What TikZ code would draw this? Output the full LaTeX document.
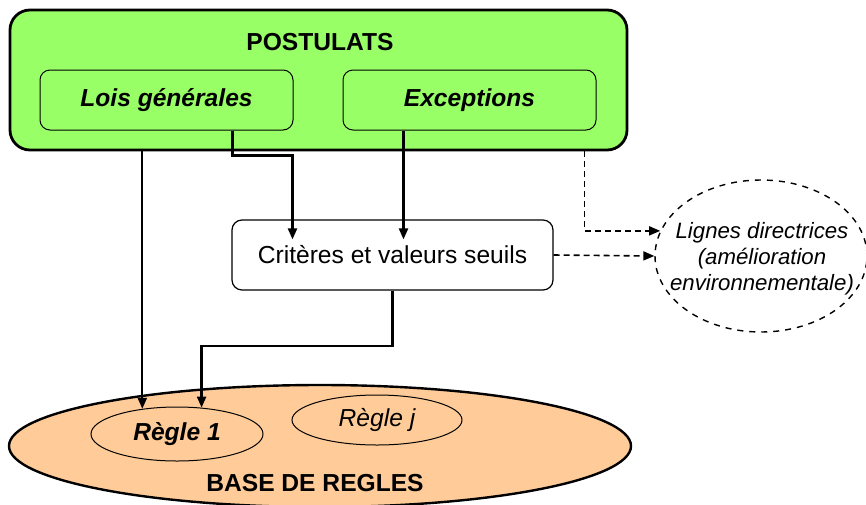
\documentclass[tikz,border=0pt]{standalone}
\usepackage{fontspec}
\setmainfont{Liberation Sans}
\usetikzlibrary{positioning, arrows.meta, calc, shapes.geometric}
\definecolor{vert}{HTML}{99FF66}
\definecolor{saumon}{HTML}{FFCC99}
\newcommand{\taille}{\fontsize{12.3}{14}\selectfont}

\begin{document}
\begin{tikzpicture}[x=0.5pt, y=-0.5pt,
  groupe/.style={draw, line width=1.4pt, rounded corners=10pt, fill=vert,
    minimum width=308.5pt, minimum height=70pt},
  boite/.style={draw, line width=0.5pt, rounded corners=5pt, fill=vert,
    minimum width=126.5pt, minimum height=30pt, font=\taille\bfseries\itshape},
  critere/.style={draw, line width=0.6pt, rounded corners=5pt, fill=white,
    minimum width=160.5pt, minimum height=35pt, font=\taille},
  titre/.style={font=\taille\bfseries},
  base/.style={draw, ellipse, line width=1.2pt, fill=saumon, inner sep=0pt,
    minimum width=311pt, minimum height=61pt},
  regle/.style={draw, ellipse, line width=0.5pt, inner sep=0pt,
    minimum width=86pt, minimum height=27pt, font=\taille\itshape},
  guide/.style={draw, ellipse, dashed, line width=0.7pt, fill=white, inner sep=0pt,
    minimum width=106pt, minimum height=76pt},
  guidetexte/.style={align=center, inner sep=0pt,
    font=\fontsize{11.1}{13}\selectfont\itshape},
  fleche/.style={-{Triangle[length=5.5pt, width=4.5pt]}, line width=1.1pt},
  tirets/.style={-{Triangle[length=5.5pt, width=4.5pt]}, line width=0.8pt,
    dash pattern=on 3pt off 2pt}
]
\useasboundingbox (0,0) rectangle (866,504);

% postulats
\node[groupe] (postulats) at (318.5,80) {};
\node[titre] (titre) at (320,42) {POSTULATS};
\node[boite] (lois) at (166.5,100) {Lois générales};
\node[boite] (exceptions) at (469.5,100) {Exceptions};

% base de regles
\node[base] (base) at (320,446) {};
\node[titre] (nombase) at (315,483) {BASE DE REGLES};
\node[regle] (regle1) at (177,434) {\bfseries Règle 1};
\node[regle, minimum width=85pt, minimum height=25pt] (reglej) at (377,420) {Règle j};

% criteres et lignes directrices
\node[critere] (crit) at (392.5,255) {Critères et valeurs seuils};
\node[guide] (lignes) at (761,256) {};
\node[guidetexte] (textelignes) at (762,259)
  {Lignes directrices\\(amélioration\\environnementale)};

\draw[fleche] (regle1.144 |- postulats.south) -- (regle1.144);
\draw[fleche, shorten >=-10pt] ([xshift=33pt]lois.south) -- ++(0,25)
  -| ([xshift=-50pt]crit.north);
\draw[fleche, shorten >=-10pt] ([xshift=-33pt]exceptions.south)
  -- ([xshift=-33pt]exceptions.south |- crit.north);
\draw[fleche] (crit.south) -- ++(0,55) -| (regle1.47);
\draw[tirets] ([xshift=133pt]postulats.south) |- (lignes.166);
\draw[tirets] (crit.east) -- (lignes.west);

\end{tikzpicture}
\end{document}
